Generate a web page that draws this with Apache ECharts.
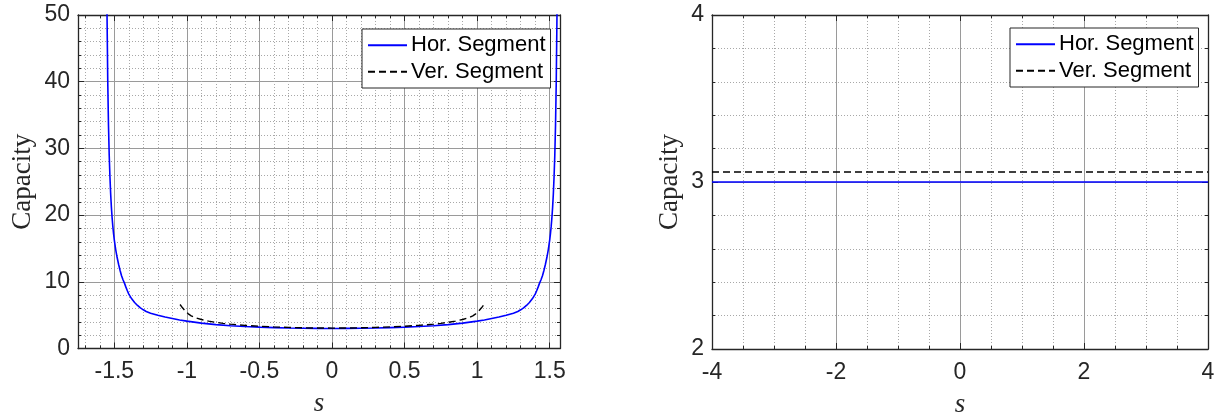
<!DOCTYPE html>
<html>
<head>
<meta charset="utf-8">
<script src="https://cdn.jsdelivr.net/npm/echarts@6/dist/echarts.min.js"></script>
<style>
html,body{margin:0;padding:0;background:#fff;}
#chart{width:1225px;height:416px;}
</style>
</head>
<body>
<div id="chart"></div>
<script>
// ---- data ----
const seriesNames = ['Hor. Segment', 'Ver. Segment'];

// Left panel: Hor. Segment (blue, solid)
const horS = [-1.56,-1.555,-1.55,-1.545,-1.54,-1.535,-1.53,-1.525,-1.52,-1.515,-1.51,-1.505,-1.50,-1.49,-1.48,-1.47,-1.46,-1.45,-1.44,-1.43,-1.42,-1.41,-1.40,-1.38,-1.36,-1.34,-1.32,-1.30,-1.28,-1.25,-1.20,-1.15,-1.10,-1.05,-1.00,-0.90,-0.80,-0.70,-0.60,-0.50,-0.40,-0.30,-0.20,-0.10,
               0,
               0.10,0.20,0.30,0.40,0.50,0.60,0.70,0.80,0.90,1.00,1.05,1.10,1.15,1.20,1.25,1.28,1.30,1.32,1.34,1.36,1.38,1.40,1.41,1.42,1.43,1.44,1.45,1.46,1.47,1.48,1.49,1.50,1.505,1.51,1.515,1.52,1.525,1.53,1.535,1.54,1.545,1.55,1.555,1.56];
const horCap = [80,62,50,40,33.5,29,25.8,23.2,21.2,19.6,18.3,17.2,16.3,14.8,13.6,12.6,11.7,10.9,10.3,9.8,9.2,8.65,8.15,7.45,6.9,6.45,6.08,5.8,5.55,5.3,4.98,4.72,4.5,4.28,4.1,3.8,3.58,3.42,3.3,3.2,3.13,3.07,3.03,3.01,
                3.0,
                3.01,3.03,3.07,3.13,3.2,3.3,3.42,3.58,3.8,4.1,4.28,4.5,4.72,4.98,5.3,5.55,5.8,6.08,6.45,6.9,7.45,8.15,8.65,9.2,9.8,10.3,10.9,11.7,12.6,13.6,14.8,16.3,17.2,18.3,19.6,21.2,23.2,25.8,29,33.5,40,50,62,80];

// Left panel: Ver. Segment (black, dashed)
const verS   = [-1.047,-1.03,-1.01,-0.99,-0.97,-0.94,-0.90,-0.85,-0.80,-0.75,-0.70,-0.60,-0.50,-0.40,-0.30,-0.20,-0.10,0,
                 0.10,0.20,0.30,0.40,0.50,0.60,0.70,0.75,0.80,0.85,0.90,0.94,0.97,0.99,1.01,1.03,1.047];
const verCap = [6.6,6.1,5.6,5.2,4.9,4.6,4.35,4.1,3.92,3.77,3.65,3.47,3.34,3.24,3.16,3.1,3.07,3.06,
                 3.07,3.1,3.16,3.24,3.34,3.47,3.65,3.77,3.92,4.1,4.35,4.6,4.9,5.2,5.6,6.1,6.6];

// Right panel
const rightS      = [-4, 4];
const rightHorCap = [3.0, 3.0];
const rightVerCap = [3.06, 3.06];

// Axis ranges / ticks
const leftX  = {min: -1.75, max: 1.5708, step: 0.5, minorSplit: 5};
const leftY  = {min: 0, max: 50, step: 10, minorSplit: 5};
const rightX = {min: -4, max: 4, step: 2, minorSplit: 4};
const rightY = {min: 2, max: 4, step: 1, minorSplit: 5};

// ---- styles ----
const AX = '#262626';
const MAJOR = '#9a9a9a';
const MINOR = '#a8a8a8';
const SANS = 'Liberation Sans, Arial, Helvetica, sans-serif';
const SERIF = 'Liberation Serif, Times New Roman, serif';

function pair(xs, ys){ return xs.map((x,i)=>[x, ys[i]]); }

function makeAxis(type, gridIndex, position, r, opts){
  const main = opts.main;
  const a = {
    type: 'value', gridIndex, position,
    min: r.min, max: r.max,
    axisLine: {show: true, onZero: false, lineStyle: {color: AX, width: 1.3}},
    axisTick: {show: true, inside: true, length: 6, lineStyle: {color: AX, width: 1}},
    minorTick: {show: true, splitNumber: r.minorSplit, length: 3, lineStyle: {color: AX, width: 1}},
    axisLabel: {show: main, fontFamily: SANS, fontSize: 23, color: AX,
                margin: type === 'x' ? 12 : 8, showMinLabel: opts.showMin, showMaxLabel: opts.showMax},
    splitLine: {show: main, lineStyle: {color: MAJOR, width: 1}},
    minorSplitLine: {show: main, lineStyle: {color: MINOR, width: 1, type: [1, 2]}},
    z: 3
  };
  if (opts.fixedStep) { a.interval = r.step; }
  else { a.minInterval = r.step; a.maxInterval = r.step; a.splitNumber = 6; }
  if (main) {
    a.name = type === 'x' ? 's' : 'Capacity';
    a.nameLocation = 'middle';
    if (type === 'x') {
      a.nameGap = 42;
      a.nameTextStyle = {fontFamily: SERIF, fontStyle: 'italic', fontSize: 27, color: AX};
    } else {
      a.nameGap = opts.yNameGap;
      a.nameRotate = 90;
      a.nameTextStyle = {fontFamily: SERIF, fontSize: 27, color: AX};
    }
  }
  return a;
}

const grids = [
  {left: 78, top: 15, width: 482, height: 333.5, containLabel: false, outerBoundsMode: 'none'},
  {left: 712, top: 15, width: 496, height: 334, containLabel: false, outerBoundsMode: 'none'}
];

const xAxes = [
  makeAxis('x', 0, 'bottom', leftX, {main: true, fixedStep: false, showMin: false, showMax: false}),
  makeAxis('x', 0, 'top', leftX, {main: false, fixedStep: false, showMin: false, showMax: false}),
  makeAxis('x', 1, 'bottom', rightX, {main: true, fixedStep: true, showMin: true, showMax: true}),
  makeAxis('x', 1, 'top', rightX, {main: false, fixedStep: true, showMin: true, showMax: true})
];
const yAxes = [
  makeAxis('y', 0, 'left', leftY, {main: true, fixedStep: true, showMin: true, showMax: true, yNameGap: 42}),
  makeAxis('y', 0, 'right', leftY, {main: false, fixedStep: true, showMin: true, showMax: true}),
  makeAxis('y', 1, 'left', rightY, {main: true, fixedStep: true, showMin: true, showMax: true, yNameGap: 29}),
  makeAxis('y', 1, 'right', rightY, {main: false, fixedStep: true, showMin: true, showMax: true})
];

const blueStyle = {color: '#0000ff', width: 1.6, type: 'solid'};
const dashStyle = {color: '#000000', width: 1.4, type: [7, 4]};

function lineSeries(name, data, xi, yi, style){
  return {
    type: 'line', name, data, xAxisIndex: xi, yAxisIndex: yi,
    showSymbol: false, symbol: 'none', smooth: false,
    lineStyle: style, itemStyle: {color: style.color}, clip: true, z: 5,
    emphasis: {disabled: true}, animation: false
  };
}

const series = [
  lineSeries(seriesNames[0], pair(horS, horCap), 0, 0, blueStyle),
  lineSeries(seriesNames[1], pair(verS, verCap), 0, 0, dashStyle),
  lineSeries(seriesNames[0], pair(rightS, rightHorCap), 2, 2, blueStyle),
  lineSeries(seriesNames[1], pair(rightS, rightVerCap), 2, 2, dashStyle)
];

function legendAt(left, top){
  return {
    left, top, orient: 'vertical',
    data: seriesNames,
    itemStyle: {opacity: 0, borderWidth: 0},
    itemWidth: 39, itemHeight: 14, itemGap: 2, padding: [4, 5, 4, 5],
    backgroundColor: '#fff', borderColor: AX, borderWidth: 1, borderRadius: 0,
    selectedMode: false,
    textStyle: {fontFamily: SANS, fontSize: 22, color: '#000', lineHeight: 24.5, padding: [0, 0, 0, -1]},
    z: 10
  };
}

const chart = echarts.init(document.getElementById('chart'), null, {renderer: 'canvas'});
chart.setOption({
  animation: false,
  backgroundColor: '#fff',
  grid: grids,
  xAxis: xAxes,
  yAxis: yAxes,
  legend: [legendAt(362, 29), legendAt(1010, 28)],
  series
});
</script>
</body>
</html>
